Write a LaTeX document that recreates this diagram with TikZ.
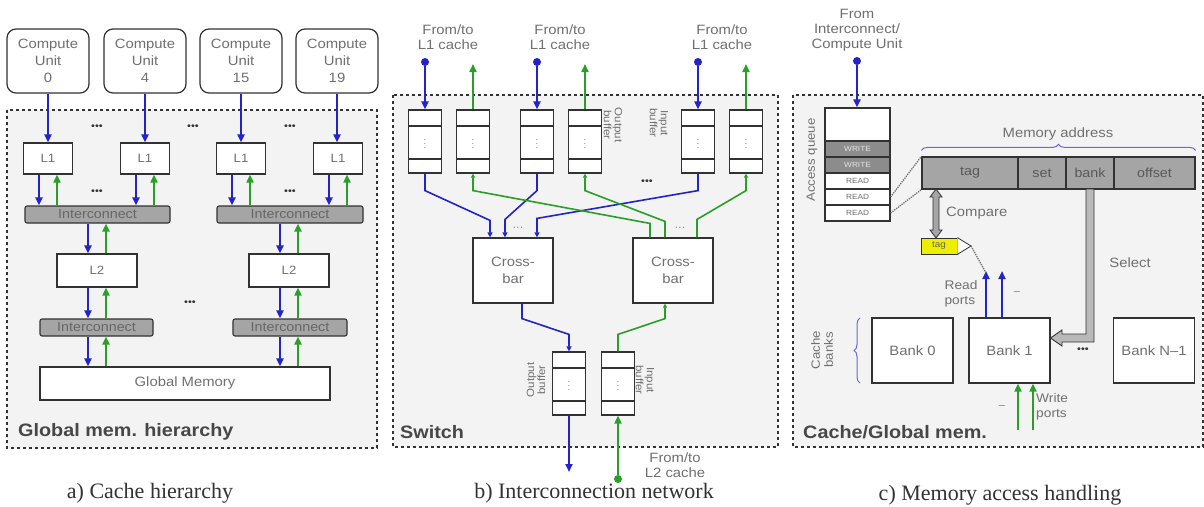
\documentclass[tikz,border=0pt]{standalone}
\usepackage{fontspec}
\setmainfont{Liberation Serif}
\newfontfamily\lab[FakeStretch=1.1]{Liberation Sans}
\usetikzlibrary{arrows.meta,decorations.pathreplacing}
\definecolor{myblue}{RGB}{35,35,200}
\definecolor{mygreen}{RGB}{40,160,40}
\definecolor{txtgray}{RGB}{112,112,112}
\definecolor{bggray}{RGB}{243,243,243}
\definecolor{brdr}{RGB}{50,50,50}
\definecolor{icgray}{RGB}{165,165,165}
\definecolor{bracec}{RGB}{105,105,215}
\definecolor{tagyellow}{RGB}{238,238,0}
\newcommand{\bgpair}[3]{%
  \draw[barr] ([xshift=-9pt]#1 |- #2.south) -- ([xshift=-9pt]#1 |- #3.north);
  \draw[garr] ([xshift=9pt]#1 |- #3.north) -- ([xshift=9pt]#1 |- #2.south);}
\begin{document}
\begin{tikzpicture}[x=1pt,y=-1pt,
  panel/.style={draw=brdr, dash pattern=on 3pt off 3pt, line width=1.4pt, fill=bggray},
  box/.style={draw=brdr, line width=1.2pt, fill=white, inner sep=0pt, text=txtgray, align=center, font=\lab\fontsize{13.5}{17}\selectfont},
  cu/.style={box, rounded corners=9pt, minimum width=82pt, minimum height=64pt},
  lone/.style={box, minimum width=49pt, minimum height=31pt, font=\lab\fontsize{12}{12}\selectfont},
  ltwo/.style={box, minimum width=80pt, minimum height=33pt, font=\lab\fontsize{12}{12}\selectfont},
  ic/.style={draw=brdr, line width=1.1pt, fill=icgray, rounded corners=2pt, inner sep=0pt, minimum height=17pt, text=black!60, font=\lab\fontsize{13}{13}\selectfont},
  barr/.style={draw=myblue, line width=1.9pt, -{Triangle[length=8pt,width=7pt]}},
  garr/.style={draw=mygreen, line width=1.8pt, -{Triangle[length=8pt,width=7pt]}},
  sbarr/.style={draw=myblue, line width=1.6pt, -{Triangle[length=5pt,width=5pt]}},
  sgarr/.style={draw=mygreen, line width=1.6pt, -{Triangle[length=4pt,width=4pt]}},
  dots/.style={inner sep=0pt, text=brdr, font=\lab\fontsize{10}{10}\selectfont},
  sdots/.style={inner sep=0pt, text=txtgray, font=\lab\fontsize{10}{10}\selectfont},
  lbl/.style={inner sep=0pt, text=txtgray, align=center, font=\lab\fontsize{13.5}{15}\selectfont},
  rot/.style={inner sep=0pt, text=txtgray, align=center, font=\lab\fontsize{10.5}{11}\selectfont},
  ptitle/.style={inner sep=0pt, anchor=west, text=black!72, font=\lab\bfseries\fontsize{18}{18}\selectfont},
  capt/.style={inner sep=0pt, text=black!80, font=\fontsize{22}{22}\selectfont},
  buf/.style={box, minimum width=33pt, minimum height=63pt, font=\fontsize{9}{9}\selectfont,
    path picture={\draw[brdr, line width=1.2pt]
      ([yshift=-16pt]path picture bounding box.north west) -- ([yshift=-16pt]path picture bounding box.north east)
      ([yshift=14pt]path picture bounding box.south west) -- ([yshift=14pt]path picture bounding box.south east);}},
  xbar/.style={box, minimum width=80pt, minimum height=65pt},
  bank/.style={box, minimum width=81pt, minimum height=65pt},
  qrow/.style={box, minimum width=65pt, minimum height=16pt, font=\lab\fontsize{7.5}{7.5}\selectfont},
  wrow/.style={qrow, fill=icgray!85!black, text=white!80!gray},
  addr/.style={draw=brdr, line width=1.2pt, fill=icgray, inner sep=0pt, minimum height=32pt, text=black!65, font=\lab\fontsize{13}{13}\selectfont},
  endball/.style={circle, fill=#1, inner sep=0pt, minimum size=8pt},
]
\path[fill=white] (0,0) rectangle (1204,506);
\useasboundingbox (0,0) rectangle (1204,506);

% ================= panel a =================
\path[panel] (7,110) rectangle (377,448);
\node[cu] (cu0) at (48,61) {Compute\\Unit\\0};
\node[cu] (cu4) at (145,61) {Compute\\Unit\\4};
\node[cu] (cu15) at (241,61) {Compute\\Unit\\15};
\node[cu] (cu19) at (337,61) {Compute\\Unit\\19};
\node[lone] (l1a) at (48,158.5) {L1};
\node[lone] (l1b) at (145,158.5) {L1};
\node[lone] (l1c) at (241,158.5) {L1};
\node[lone] (l1d) at (338,158.5) {L1};
\foreach \c/\l in {cu0/l1a,cu4/l1b,cu15/l1c,cu19/l1d}
  \draw[barr] (\c.south) -- (\c.south |- \l.north);
\node[ic, minimum width=145pt] (ica) at (97.5,214.5) {Interconnect};
\node[ic, minimum width=146pt] (icb) at (290,214.5) {Interconnect};
\bgpair{l1a.south}{l1a}{ica}
\bgpair{l1b.south}{l1b}{ica}
\bgpair{l1c.south}{l1c}{icb}
\bgpair{l1d.south}{l1d}{icb}
\node[ltwo] (l2a) at (97,270.5) {L2};
\node[ltwo] (l2b) at (289,270.5) {L2};
\bgpair{l2a.north}{ica}{l2a}
\bgpair{l2b.north}{icb}{l2b}
\node[ic, minimum width=113pt] (ilba) at (96.5,327.5) {Interconnect};
\node[ic, minimum width=114pt] (ilbb) at (290,327.5) {Interconnect};
\bgpair{l2a.south}{l2a}{ilba}
\bgpair{l2b.south}{l2b}{ilbb}
\node[box, minimum width=290pt, minimum height=33pt] (gm) at (185,383.5) {Global Memory};
\bgpair{l2a.south}{ilba}{gm}
\bgpair{l2b.south}{ilbb}{gm}
\node[dots] (da1) at (97,127) {•••};
\node[dots] (da2) at (193,127) {•••};
\node[dots] (da3) at (290,127) {•••};
\node[dots] (da4) at (97,192) {•••};
\node[dots] (da5) at (290,192) {•••};
\node[dots] (da6) at (190,303) {•••};
\node[ptitle] (ta) at (18,432) {Global mem. hierarchy};
\node[capt] (capa) at (150,493) {a) Cache hierarchy};

% ================= panel b =================
\path[panel] (393,95) rectangle (778,447);
\node[lbl] (fl1) at (448,37) {From/to\\L1 cache};
\node[lbl] (fl2) at (560,37) {From/to\\L1 cache};
\node[lbl] (fl3) at (722,37) {From/to\\L1 cache};
\node[buf] (bu1) at (425,141.5) {$\vdots$};
\node[buf] (bu2) at (473,141.5) {$\vdots$};
\node[buf] (bu3) at (537,141.5) {$\vdots$};
\node[buf] (bu4) at (585,141.5) {$\vdots$};
\node[buf] (bu5) at (698,141.5) {$\vdots$};
\node[buf] (bu6) at (746,141.5) {$\vdots$};
\node[endball=myblue] (dd1) at (425,62) {};
\node[endball=myblue] (dd2) at (537,62) {};
\node[endball=myblue] (dd3) at (698,62) {};
\draw[barr] (dd1) -- (bu1.north);
\draw[barr] (dd2) -- (bu3.north);
\draw[barr] (dd3) -- (bu5.north);
\coordinate (gt1) at (473,64);
\coordinate (gt2) at (585,64);
\coordinate (gt3) at (746,64);
\draw[garr] (bu2.north) -- (gt1);
\draw[garr] (bu4.north) -- (gt2);
\draw[garr] (bu6.north) -- (gt3);
\node[rot, rotate=-90] (lob1) at (613,125) {Output\\buffer};
\node[rot, rotate=-90] (lib1) at (659,123) {Input\\buffer};
\node[dots] (db1) at (647,182) {•••};
\node[xbar] (cb1) at (513,270.5) {Cross-\\bar};
\node[xbar] (cb2) at (673,270.5) {Cross-\\bar};
\draw[sbarr] (bu1.south) -- ++(0,17) -- ([xshift=-23pt,yshift=17pt]cb1.north) -- ([xshift=-23pt]cb1.north);
\draw[sbarr] (bu3.south) -- ++(0,17) -- ([xshift=-8pt,yshift=18pt]cb1.north) -- ([xshift=-8pt]cb1.north);
\draw[sbarr] (bu5.south) -- ++(0,17) -- ([xshift=24pt,yshift=19pt]cb1.north) -- ([xshift=24pt]cb1.north);
\draw[sgarr] ([xshift=-23pt]cb2.north) -- ([xshift=-23pt,yshift=14pt]cb2.north) -- ([yshift=-17pt]bu2.south) -- (bu2.south);
\draw[sgarr] ([xshift=-8pt]cb2.north) -- ([xshift=-8pt,yshift=16pt]cb2.north) -- ([yshift=-17pt]bu4.south) -- (bu4.south);
\draw[sgarr] ([xshift=24pt]cb2.north) -- ([xshift=24pt,yshift=18pt]cb2.north) -- ([yshift=-17pt]bu6.south) -- (bu6.south);
\node[sdots] (db2) at (518,229) {···};
\node[sdots] (db3) at (680,229) {···};
\node[buf] (ob) at (569,383.5) {$\vdots$};
\node[buf] (ib) at (618,383.5) {$\vdots$};
\draw[sbarr] ([xshift=9pt]cb1.south) -- ([xshift=9pt,yshift=-15pt]cb1.south) -- ([yshift=17pt]ob.north) -- (ob.north);
\draw[sgarr] (ib.north) -- ([yshift=17pt]ib.north) -- ([xshift=-8pt,yshift=-15pt]cb2.south) -- ([xshift=-8pt]cb2.south);
\node[rot, rotate=90] (lob2) at (536,380) {Output\\buffer};
\node[rot, rotate=-90] (lib2) at (645,380) {Input\\buffer};
\coordinate (bend) at (569,472);
\draw[barr] (ob.south) -- (bend);
\node[endball=mygreen] (gd) at (618,479) {};
\draw[garr] (gd) -- (ib.south);
\node[lbl] (fl4) at (675,465) {From/to\\L2 cache};
\node[ptitle] (tb) at (400,432) {Switch};
\node[capt] (capb) at (594,493) {b) Interconnection network};

% ================= panel c =================
\path[panel] (793,95) rectangle (1203,447);
\node[lbl] (fic) at (857,30) {From\\Interconnect/\\Compute Unit};
\node[endball=myblue] (dd4) at (857,61) {};
\node[box, minimum width=65pt, minimum height=33pt] (q0) at (857.5,124.5) {};
\draw[barr] (dd4) -- (dd4 |- q0.north);
\node[wrow] (q1) at (857.5,149) {WRITE};
\node[wrow] (q2) at (857.5,165) {WRITE};
\node[qrow] (q3) at (857.5,181) {READ};
\node[qrow] (q4) at (857.5,197) {READ};
\node[qrow] (q5) at (857.5,213) {READ};
\node[rot, rotate=90, font=\lab\fontsize{12}{12}\selectfont] (laq) at (812,160) {Access queue};
\node[addr, minimum width=96pt] (tagc) at (970,173) {tag};
\node[addr, minimum width=48pt] (setc) at (1042,173) {set};
\node[addr, minimum width=48pt] (bankc) at (1090,173) {bank};
\node[addr, minimum width=81pt] (offc) at (1154.5,173) {offset};
\draw[bracec, line width=1pt, decorate, decoration={brace, amplitude=6pt}] ([yshift=6pt]tagc.north west) -- ([yshift=6pt]offc.north east);
\node[lbl] (lma) at (1058,134) {Memory address};
\draw[txtgray, densely dotted, line width=1.3pt] (q4.east) -- (tagc.north west);
\draw[txtgray, densely dotted, line width=1.3pt] (q5.east) -- (tagc.south west);
% compare double arrow
\filldraw[fill=icgray, draw=brdr, line width=0.8pt] (936,189) -- (942,197) -- (939,197) -- (939,230) -- (942,230) -- (936,238) -- (930,230) -- (933,230) -- (933,197) -- (930,197) -- cycle;
\node[lbl, anchor=west] (lcmp) at (946,213) {Compare};
\node[draw=brdr, line width=0.8pt, fill=tagyellow, minimum width=36pt, minimum height=16pt, inner sep=0pt, text=black!60, font=\lab\fontsize{9}{9}\selectfont] (ytag) at (939,246) {tag};
\coordinate (ytip) at (971,246);
\filldraw[fill=white, draw=brdr, line width=0.8pt] (ytag.north east) -- (ytip) -- (ytag.south east);
\node[bank] (bk0) at (912.5,350.5) {Bank 0};
\node[bank] (bk1) at (1009.5,350.5) {Bank 1};
\node[bank] (bkn) at (1154,350.5) {Bank N–1};
\coordinate (rp1) at (986,271);
\coordinate (rp2) at (1002,271);
\draw[barr] (rp1 |- bk1.north) -- (rp1);
\draw[barr] (rp2 |- bk1.north) -- (rp2);
\draw[txtgray, densely dotted, line width=1.3pt] (ytip) -- ([yshift=-2pt]rp1);
\node[lbl, align=left, font=\lab\fontsize{12.5}{14.5}\selectfont] (lrp) at (961,294) {Read\\ports};
\node[sdots] (dc1) at (1017,293) {–};
% select
\filldraw[fill=gray!55, draw=brdr, line width=0.9pt] (1086,189) -- (1094,189) -- (1094,342) -- (1062,342) -- (1062,346) -- (1050.5,338) -- (1062,330) -- (1062,334) -- (1086,334) -- cycle;
\node[lbl] (lsel) at (1130,263) {Select};
\node[dots] (dc2) at (1083,350) {•••};
\draw[bracec, line width=1pt, decorate, decoration={brace, amplitude=6pt}] (860,383) -- (860,318);
\node[rot, rotate=90, font=\lab\fontsize{12}{13}\selectfont] (lcb) at (822,350) {Cache\\banks};
\coordinate (wp1) at (1018,430);
\coordinate (wp2) at (1033,430);
\draw[garr] (wp1) -- (wp1 |- bk1.south);
\draw[garr] (wp2) -- (wp2 |- bk1.south);
\node[lbl, align=left, anchor=west, font=\lab\fontsize{12.5}{14.5}\selectfont] (lwp) at (1036,407) {Write\\ports};
\node[sdots] (dc3) at (1002,407) {–};
\node[ptitle] (tc) at (803,432) {Cache/Global mem.};
\node[capt] (capc) at (1000,495) {c) Memory access handling};
\end{tikzpicture}
\end{document}
